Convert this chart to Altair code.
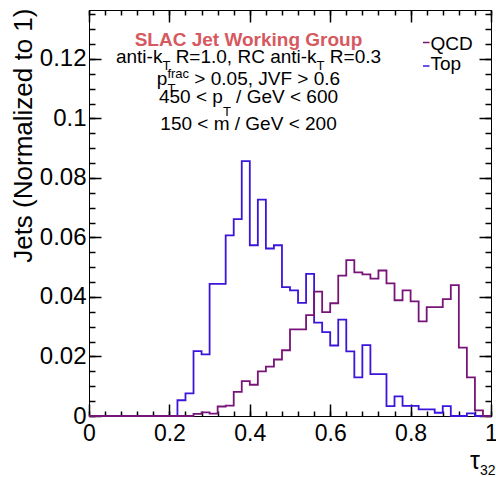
import altair as alt
import pandas as pd

# ---- histogram contents (50 bins of width 0.02 in tau_32, normalized to 1) ----
bin_edges = [round(0.02 * i, 2) for i in range(51)]

qcd_values = [
    0, 0, 0, 0, 0, 0, 0, 0, 0, 0, 0, 0, 0,
    0.0007, 0.0012, 0.0008, 0.0032, 0.0035, 0.0081, 0.0117, 0.0105, 0.0150,
    0.0166, 0.0190, 0.0221, 0.0291, 0.0291, 0.0339, 0.0418, 0.0349, 0.0379,
    0.0472, 0.0524, 0.0483, 0.0476, 0.0462, 0.0489, 0.0446, 0.0389, 0.0422,
    0.0385, 0.0318, 0.0366, 0.0366, 0.0393, 0.0440, 0.0230, 0.0130, 0.0019,
    0,
]

top_values = [
    0, 0, 0, 0, 0, 0, 0, 0, 0, 0, 0,
    0.0053, 0.0076, 0.0218, 0.0207, 0.0444, 0.0444, 0.0607, 0.0662, 0.0857,
    0.0574, 0.0727, 0.0563, 0.0574, 0.0433, 0.0422, 0.0380, 0.0478, 0.0314,
    0.0282, 0.0237, 0.0324, 0.0217, 0.0130, 0.0238, 0.0141, 0.0141, 0.0033,
    0.0066, 0.0034, 0.0034, 0.0022, 0.0022, 0.0011, 0.0033, 0, 0, 0.0009,
    0, 0,
]

x_labels = [0, 0.2, 0.4, 0.6, 0.8, 1.0]
y_labels = [0, 0.02, 0.04, 0.06, 0.08, 0.10, 0.12]
x_minor = [round(0.04 * i, 2) for i in range(26)]
y_minor = [round(0.005 * i, 3) for i in range(28)]

QCD_COLOR = "#781478"
TOP_COLOR = "#3c14dc"
TITLE_RED = "#d6595f"
FONT = "Liberation Sans"

# ---- frame geometry ----
W, H = 402, 406
OX, OY = 89, 10
Y_MAX = 0.13647

xscale = alt.Scale(domain=[0, 1], nice=False, zero=False)
yscale = alt.Scale(domain=[0, Y_MAX], nice=False, zero=False)


def frame_axis(values, orient, size, labels=False, pad=0, font_size=24):
    # ticks point into the frame: pull the axis line inside by the tick length
    return alt.Axis(values=values, orient=orient, offset=-size, tickSize=size,
                    ticks=True, tickColor="#000000", tickWidth=1.5, tickOpacity=1,
                    tickRound=True, domain=False, grid=False, labels=labels,
                    format="~g", labelFont=FONT, labelFontSize=font_size,
                    labelColor="black", labelPadding=pad, labelFlush=False,
                    labelOverlap=False, title=None)


def step_frame(values):
    return pd.DataFrame({"edge": bin_edges, "val": list(values) + [values[-1]]})


def hist(values, color, xaxis, yaxis, opacity=1.0):
    return alt.Chart(step_frame(values)).mark_line(
        interpolate="step-after", color=color, strokeWidth=1.8, opacity=opacity
    ).encode(
        x=alt.X("edge:Q", scale=xscale, axis=xaxis),
        y=alt.Y("val:Q", scale=yscale, axis=yaxis),
    )


# hidden copies carry the top/right tick axes
frame_top_major = hist(top_values, TOP_COLOR, frame_axis(x_labels, "top", 12),
                       frame_axis(y_labels, "right", 12), opacity=0)
frame_top_minor = hist(top_values, TOP_COLOR, frame_axis(x_minor, "top", 5),
                       frame_axis(y_minor, "right", 6), opacity=0)

top_line = hist(top_values, TOP_COLOR,
                frame_axis(x_labels, "bottom", 12, labels=True, pad=6, font_size=23),
                frame_axis(y_labels, "left", 12, labels=True, pad=3, font_size=24))
qcd_line = hist(qcd_values, QCD_COLOR, frame_axis(x_minor, "bottom", 5),
                frame_axis(y_minor, "left", 6))

# ---- text helpers (Liberation Sans advance widths, per 1000 em) ----
ADV = {
    " ": 278, "(": 333, ")": 333, ",": 278, "-": 333, ".": 278, "/": 278,
    "0": 556, "1": 556, "2": 556, "3": 556, "4": 556, "5": 556, "6": 556,
    "7": 556, "8": 556, "9": 556, "<": 584, "=": 584, ">": 584,
    "C": 722, "D": 722, "F": 611, "G": 778, "J": 500, "Q": 778, "R": 722,
    "T": 611, "V": 667, "a": 556, "c": 500, "e": 556, "f": 278, "i": 222,
    "k": 500, "m": 833, "n": 556, "p": 556, "r": 333, "t": 278, "v": 500,
}


def adv(s, size):
    return sum(ADV.get(c, 556) for c in s) * size / 1000.0


def label(text, px, py, size, color="black", weight="normal", align="left", angle=0):
    # SVG drops leading blanks, so turn them into an x offset instead
    stripped = text.lstrip(" ")
    if align == "left":
        px += adv(text[: len(text) - len(stripped)], size)
    return alt.Chart(pd.DataFrame({"t": [stripped]})).mark_text(
        font=FONT, fontSize=size, fontWeight=weight, color=color, align=align,
        baseline="alphabetic", angle=angle,
    ).encode(x=alt.value(px - OX), y=alt.value(py - OY), text="t:N")


BIG, SMALL = 19, 13
CENTER = 248.5


def rich_line(parts, baseline):
    """parts: ('main', text), ('sub', text, dy) or ('supsub', sup, sub)."""
    def width(p):
        if p[0] == "main":
            return adv(p[1], BIG)
        if p[0] == "sub":
            return adv(p[1], SMALL)
        return max(adv(p[1], SMALL), adv(p[2], SMALL))

    x = CENTER - sum(width(p) for p in parts) / 2
    out = []
    for p in parts:
        if p[0] == "main":
            out.append(label(p[1], x, baseline, BIG))
        elif p[0] == "sub":
            out.append(label(p[1], x, baseline + p[2], SMALL))
        else:
            out.append(label(p[1], x, baseline - 6.7, SMALL))
            out.append(label(p[2], x, baseline + 7.5, SMALL))
        x += width(p)
    return out


text_layers = [label("SLAC Jet Working Group", CENTER, 46, BIG, color=TITLE_RED,
                     weight="bold", align="center")]
text_layers += rich_line([("main", "anti-k"), ("sub", "T", 6.7),
                          ("main", " R=1.0, RC anti-k"), ("sub", "T", 6.7),
                          ("main", " R=0.3")], 63.3)
text_layers += rich_line([("main", "p"), ("supsub", "frac", "T"),
                          ("main", " > 0.05, JVF > 0.6")], 85)
text_layers += rich_line([("main", "450 < p"), ("sub", "T", 12.5),
                          ("main", " / GeV < 600")], 103.3)
text_layers.append(label("150 < m / GeV < 200", CENTER, 130, BIG, align="center"))

# ---- legend ----
legend_layers = []
for name, color, ty, ly in [("QCD", QCD_COLOR, 50, 42.5), ("Top", TOP_COLOR, 70, 66)]:
    legend_layers.append(
        alt.Chart(pd.DataFrame({"t": [name]})).mark_rule(color=color, strokeWidth=1.5).encode(
            x=alt.value(423 - OX), x2=alt.value(429.5 - OX), y=alt.value(ly - OY))
    )
    legend_layers.append(label(name, 430.5, ty, BIG))

# ---- axis titles ----
title_layers = [
    label("Jets (Normalized to 1)", 31.5, 8.5, 26, align="right", angle=270),
    label("\u03c4", 480, 468.5, 25, align="right"),
    label("32", 480, 475, 14),
]

chart = alt.layer(
    frame_top_major, frame_top_minor, top_line, qcd_line,
    *text_layers, *legend_layers, *title_layers
).resolve_axis(
    x="independent", y="independent"
).properties(
    width=W, height=H,
    autosize=alt.AutoSizeParams(type="none"),
    padding={"left": OX, "top": OY, "right": 496 - OX - W, "bottom": 477 - OY - H},
    background="white",
).configure_view(stroke="black", strokeWidth=1)

chart.save("out.html", embed_options={"renderer": "svg", "actions": False})
